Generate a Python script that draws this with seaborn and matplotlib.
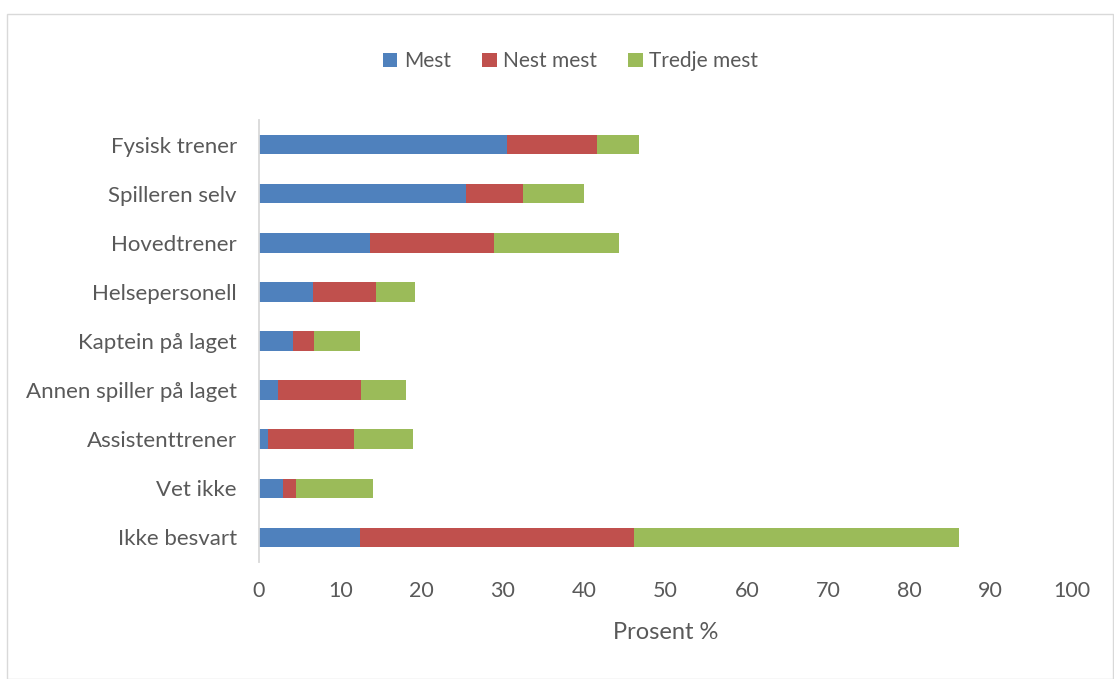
import numpy as np
import pandas as pd
import seaborn as sns
from matplotlib import pyplot as plt
from matplotlib.patches import Patch, Rectangle

categories = ["Fysisk trener", "Spilleren selv", "Hovedtrener", "Helsepersonell",
              "Kaptein på laget", "Annen spiller på laget", "Assistenttrener",
              "Vet ikke", "Ikke besvart"]
mest = [30.5, 25.4, 13.6, 6.6, 4.2, 2.3, 1.1, 3.0, 12.4]
nest_mest = [11.1, 7.1, 15.3, 7.8, 2.6, 10.3, 10.6, 1.5, 33.7]
tredje_mest = [5.1, 7.5, 15.4, 4.8, 5.6, 5.5, 7.2, 9.5, 40.0]
series_names = ["Mest", "Nest mest", "Tredje mest"]
colors = ["#4F81BD", "#C0504D", "#9BBB59"]

sns.set_style("white")
plt.rcParams['font.family'] = ['Lato', 'DejaVu Sans']
txt = "#595959"

df = pd.DataFrame({"kategori": categories, "Mest": mest,
                   "Nest mest": nest_mest, "Tredje mest": tredje_mest})
# cumulative sums for stacking
df["c1"] = df["Mest"]
df["c2"] = df["c1"] + df["Nest mest"]
df["c3"] = df["c2"] + df["Tredje mest"]

fig = plt.figure(figsize=(11.14, 6.79), dpi=100)
ax = fig.add_axes([0.2325, 0.1723, 0.7298, 0.651])

# draw largest first so the shorter layers sit on top
for col, c in zip(["c3", "c2", "c1"], colors[::-1]):
    sns.barplot(data=df, x=col, y="kategori", order=categories, color=c,
                width=0.4, orient="h", ax=ax, saturation=1, edgecolor="none")

ax.set_xlim(0, 100)
ax.set_xticks(np.arange(0, 101, 10))
ax.set_ylim(8.5, -0.5)
ax.set_ylabel("")
ax.set_xlabel("Prosent %", fontsize=17, color=txt, labelpad=15)
ax.tick_params(axis="x", length=0, labelsize=15.5, colors=txt, pad=14)
ax.tick_params(axis="y", length=0, labelsize=16, colors=txt, pad=16)
for s in ["top", "right", "bottom"]:
    ax.spines[s].set_visible(False)
ax.spines["left"].set_color("#D9D9D9")
ax.spines["left"].set_linewidth(1.3)

handles = [Patch(facecolor=c, edgecolor="none") for c in colors]
fig.legend(handles, series_names, loc="center", bbox_to_anchor=(0.512, 0.91),
           ncol=3, frameon=False, fontsize=15, labelcolor=txt,
           handlelength=0.7, handleheight=0.7, handletextpad=0.3, columnspacing=1.5)

fig.patches.append(Rectangle((0.006, 0.0), 0.993, 0.979, transform=fig.transFigure,
                             fill=False, edgecolor="#D9D9D9", linewidth=1))

fig.savefig("out.png", dpi=100)
